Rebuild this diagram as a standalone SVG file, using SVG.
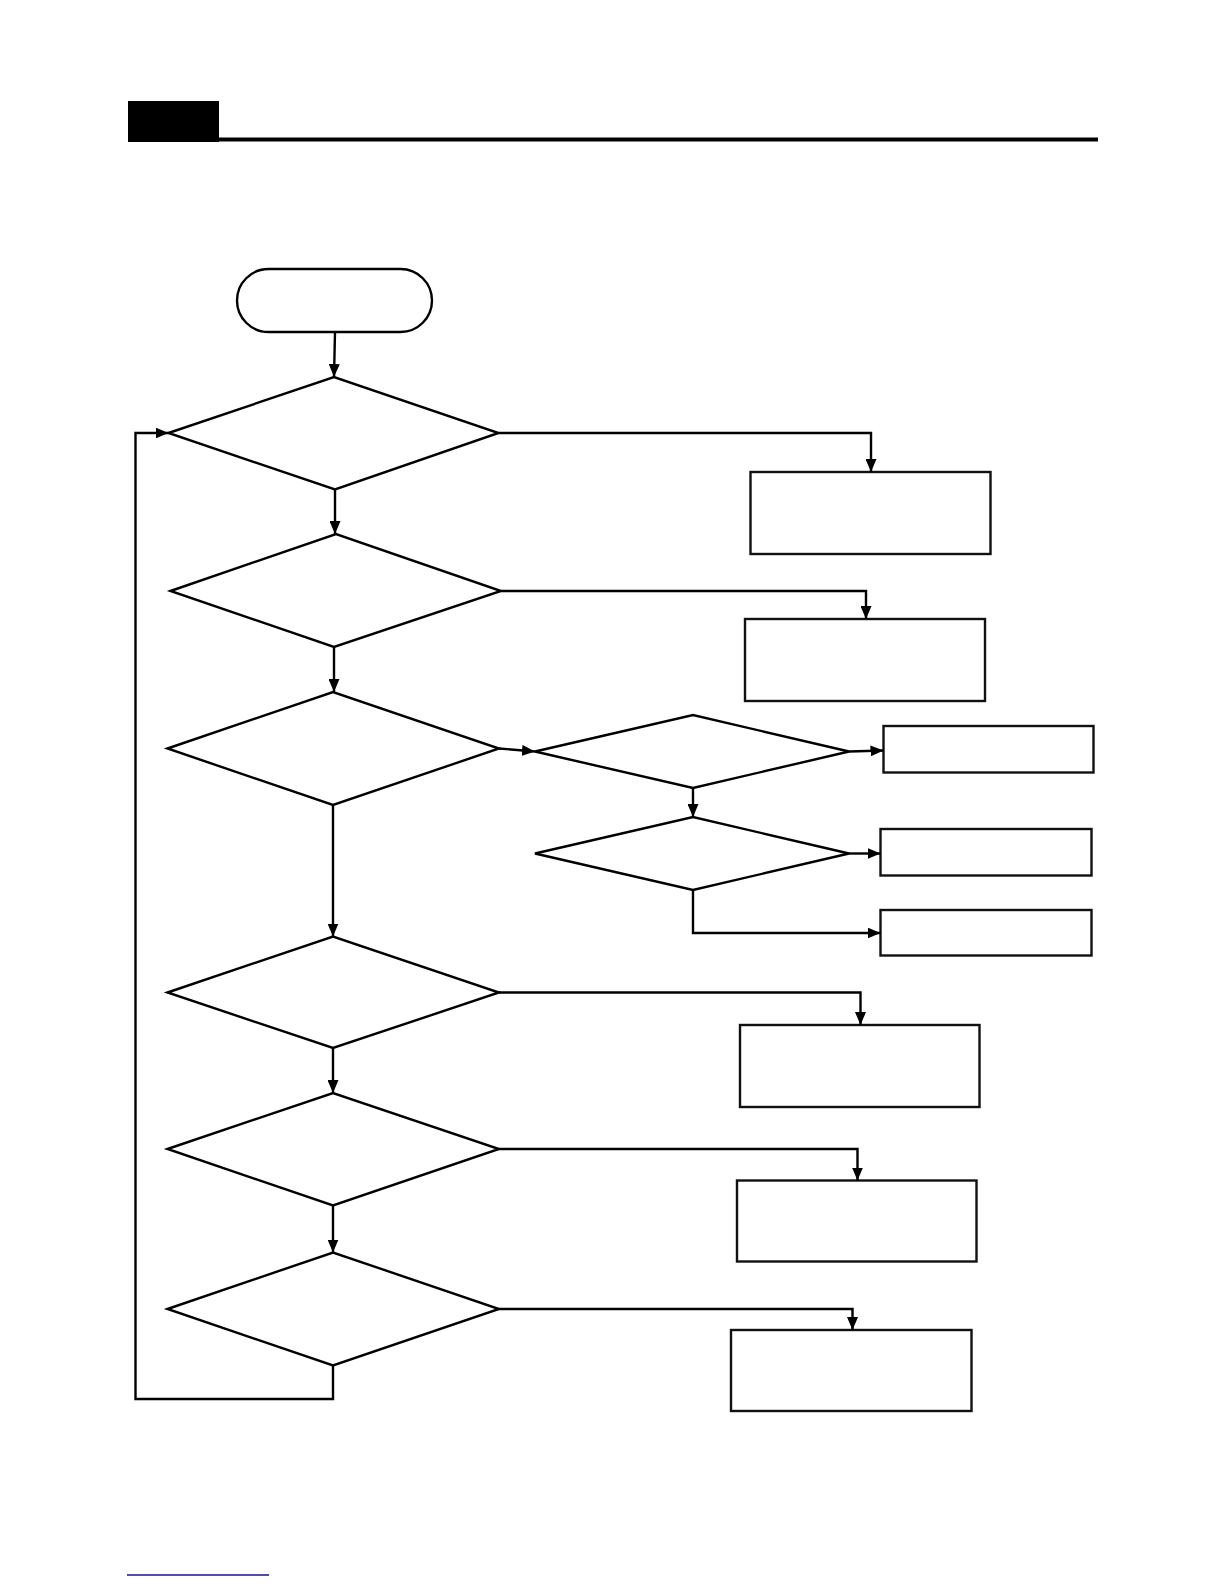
<svg xmlns="http://www.w3.org/2000/svg" width="1224" height="1584" viewBox="0 0 1224 1584">
<style>
.n{fill:#fff;stroke:#000;stroke-width:2.4}
.b{fill:#fff;stroke:#111;stroke-width:2.4}
.c{fill:none;stroke:#000;stroke-width:2.4}
</style>
<defs>
<marker id="ah" viewBox="0 0 13 11" refX="13" refY="5.5" markerWidth="13" markerHeight="11" markerUnits="userSpaceOnUse" orient="auto">
<path d="M0,0 L13,5.5 L0,11 z" fill="#000"/>
</marker>
</defs>
<rect width="1224" height="1584" fill="#fff"/>
<g id="header">
<rect x="128" y="101" width="91" height="41" fill="#000"/>
<rect x="128" y="137.5" width="970" height="4" fill="#000"/>
</g>
<g id="footer">
<line x1="127" y1="1575" x2="269" y2="1575" stroke="#14148c" stroke-width="1.5"/>
</g>
<g id="start"><rect class="n" x="237" y="269" width="195" height="63" rx="31.5"/></g>
<g id="d1"><polygon class="n" points="168.5,433 334,377 498.5,433 335,489.5"/></g>
<g id="d2"><polygon class="n" points="170.5,591 336,534 501,591 334,647"/></g>
<g id="d3"><polygon class="n" points="167.5,748.5 333,692 499,748.5 333,805"/></g>
<g id="d4"><polygon class="n" points="167.5,992.5 333,936.5 499,992.5 333,1048"/></g>
<g id="d5"><polygon class="n" points="167.5,1149 333,1093 499,1149 333,1205.5"/></g>
<g id="d6"><polygon class="n" points="167.5,1309 333,1252.5 499,1309 333,1365.5"/></g>
<g id="dA"><polygon class="n" points="535,751.5 693,715 849,751.5 693,788"/></g>
<g id="dB"><polygon class="n" points="535,853.5 693,817 849,853.5 693,890"/></g>
<g id="box1"><rect class="b" x="750.5" y="472" width="240" height="82"/></g>
<g id="box2"><rect class="b" x="745" y="619" width="240" height="82"/></g>
<g id="boxA"><rect class="b" x="883.5" y="726" width="210" height="46.5"/></g>
<g id="boxB"><rect class="b" x="880.5" y="829" width="211" height="46.5"/></g>
<g id="boxC"><rect class="b" x="880.5" y="910" width="211" height="45.5"/></g>
<g id="box4"><rect class="b" x="740" y="1025" width="239.5" height="82"/></g>
<g id="box5"><rect class="b" x="737" y="1180.5" width="239.5" height="81"/></g>
<g id="box6"><rect class="b" x="731" y="1330" width="240.5" height="81"/></g>
<g id="connectors">
<path class="c" d="M335,332 L334,377" marker-end="url(#ah)"/>
<path class="c" d="M335,489.5 L335,534" marker-end="url(#ah)"/>
<path class="c" d="M334,647 L334,692" marker-end="url(#ah)"/>
<path class="c" d="M333,805 L333,936.5" marker-end="url(#ah)"/>
<path class="c" d="M333,1048 L333,1093" marker-end="url(#ah)"/>
<path class="c" d="M333,1205.5 L333,1252.5" marker-end="url(#ah)"/>
<path class="c" d="M333,1365.5 L333,1399 L135.5,1399 L135.5,433 L168.5,433" marker-end="url(#ah)"/>
<path class="c" d="M498.5,433 L871,433 L871,472" marker-end="url(#ah)"/>
<path class="c" d="M501,591 L866,591 L866,619" marker-end="url(#ah)"/>
<path class="c" d="M499,748.5 L535,751.5" marker-end="url(#ah)"/>
<path class="c" d="M849,751.5 L883.5,750.5" marker-end="url(#ah)"/>
<path class="c" d="M693,788 L693,817" marker-end="url(#ah)"/>
<path class="c" d="M849,853.5 L880.5,853.5" marker-end="url(#ah)"/>
<path class="c" d="M693,890 L693,933 L880.5,933" marker-end="url(#ah)"/>
<path class="c" d="M499,992.5 L860.5,992.5 L860.5,1025" marker-end="url(#ah)"/>
<path class="c" d="M499,1149 L857.5,1149 L857.5,1180.5" marker-end="url(#ah)"/>
<path class="c" d="M499,1309 L852.5,1309 L852.5,1330" marker-end="url(#ah)"/>
</g>
</svg>
